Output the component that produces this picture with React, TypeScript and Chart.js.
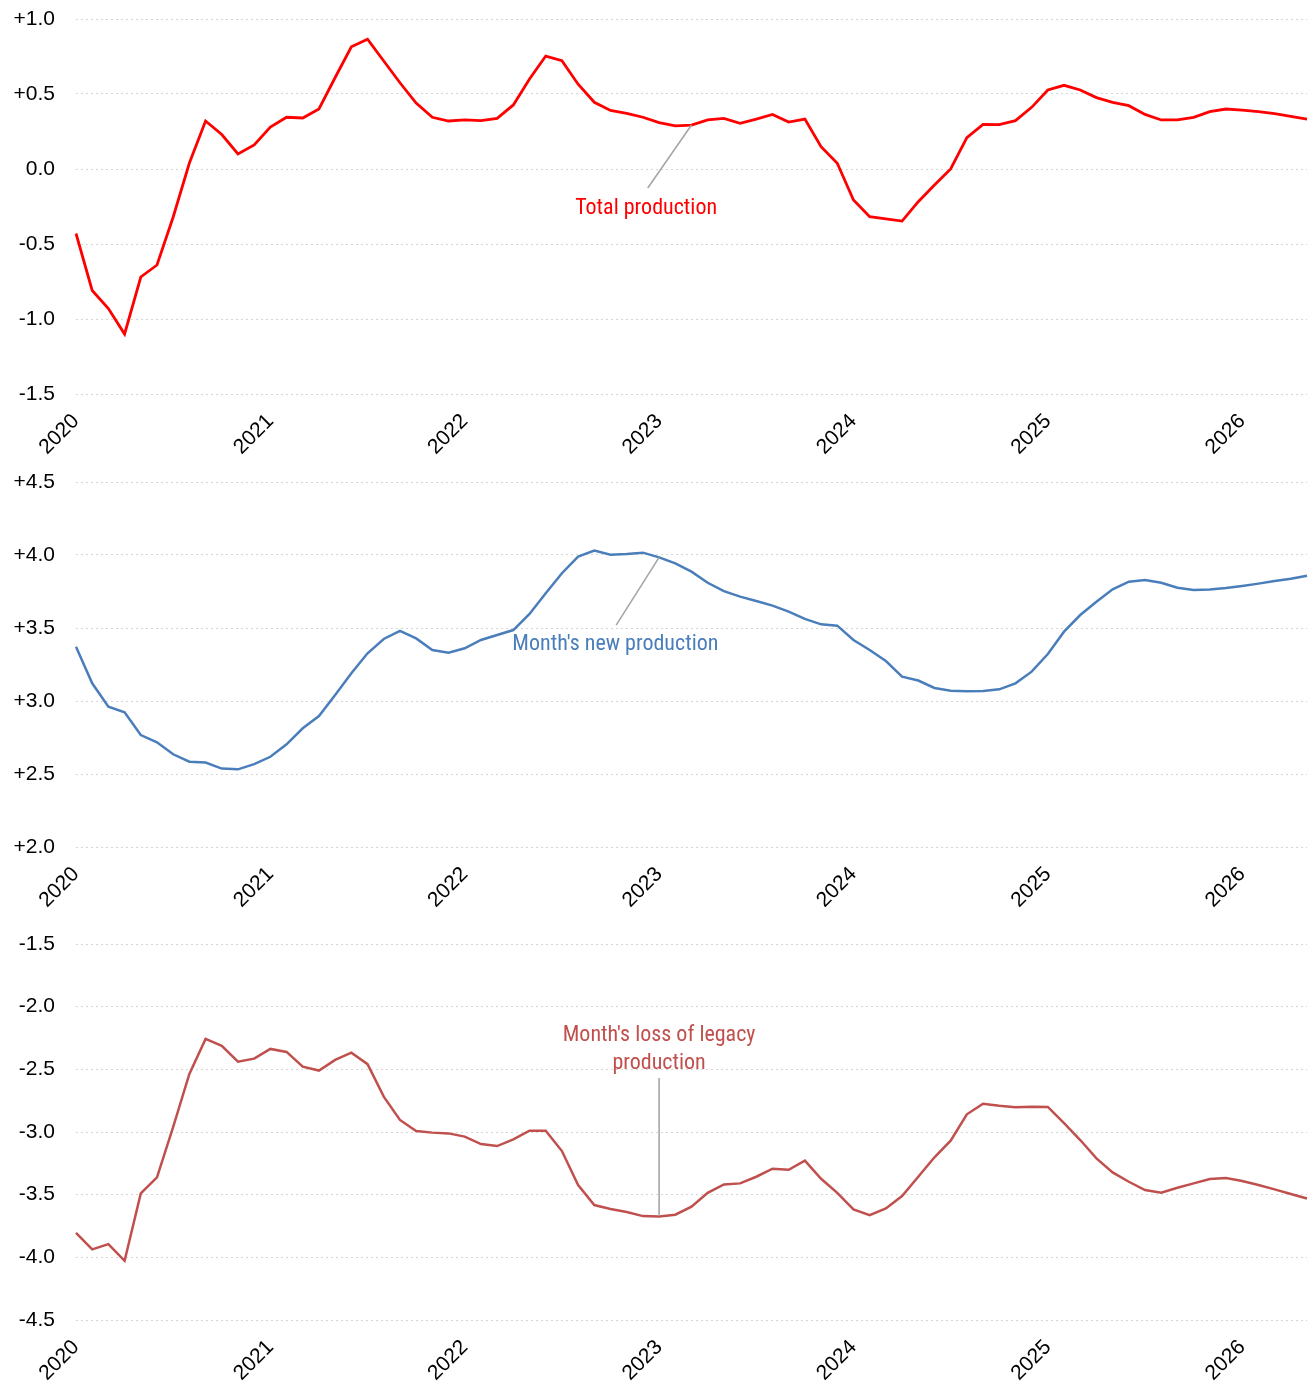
import React, { useEffect, useRef } from "react";
import { Chart, registerables } from "chart.js";

Chart.register(...registerables);

// Months Jan 2020 .. May 2026
const months: string[] = [];
for (let y = 2020; y <= 2026; y++) {
  for (let m = 1; m <= 12; m++) {
    if (y === 2026 && m > 5) break;
    months.push(`${y}-${String(m).padStart(2, "0")}`);
  }
}

const totalProduction = [
  -0.43, -0.81, -0.93, -1.1, -0.72, -0.64, -0.32, 0.04, 0.32, 0.23, 0.1, 0.16,
  0.28, 0.345, 0.34, 0.4, 0.61, 0.815, 0.865, 0.72, 0.575, 0.44, 0.345, 0.32,
  0.327, 0.322, 0.338, 0.427, 0.6, 0.753, 0.722, 0.565, 0.445, 0.39, 0.371, 0.345,
  0.309, 0.287, 0.293, 0.327, 0.338, 0.304, 0.333, 0.364, 0.313, 0.333, 0.149, 0.038,
  -0.207, -0.318, -0.333, -0.347, -0.218, -0.107, 0.0, 0.209, 0.298, 0.296, 0.322, 0.411,
  0.527, 0.558, 0.527, 0.476, 0.444, 0.422, 0.364, 0.327, 0.327, 0.344, 0.382, 0.4,
  0.393, 0.382, 0.369, 0.351, 0.333,
];

const newProduction = [
  3.372, 3.121, 2.961, 2.922, 2.767, 2.717, 2.635, 2.584, 2.578, 2.537, 2.532, 2.568,
  2.618, 2.703, 2.813, 2.897, 3.041, 3.19, 3.327, 3.425, 3.481, 3.429, 3.349, 3.331,
  3.361, 3.418, 3.452, 3.486, 3.596, 3.738, 3.875, 3.989, 4.03, 4.002, 4.007, 4.016,
  3.984, 3.943, 3.886, 3.81, 3.753, 3.715, 3.685, 3.653, 3.612, 3.562, 3.525, 3.516,
  3.418, 3.349, 3.274, 3.167, 3.14, 3.089, 3.071, 3.066, 3.068, 3.08, 3.121, 3.201,
  3.322, 3.475, 3.589, 3.68, 3.765, 3.817, 3.829, 3.81, 3.776, 3.76, 3.763, 3.774,
  3.788, 3.804, 3.822, 3.838, 3.858,
];

const legacyLoss = [
  -3.804, -3.937, -3.895, -4.028, -3.49, -3.362, -2.96, -2.537, -2.257, -2.313, -2.439, -2.415,
  -2.337, -2.361, -2.479, -2.51, -2.425, -2.367, -2.459, -2.718, -2.904, -2.992, -3.005, -3.011,
  -3.037, -3.096, -3.112, -3.059, -2.99, -2.99, -3.152, -3.423, -3.583, -3.615, -3.639, -3.671,
  -3.674, -3.66, -3.596, -3.485, -3.418, -3.41, -3.357, -3.293, -3.301, -3.229, -3.373, -3.485,
  -3.618, -3.663, -3.61, -3.511, -3.357, -3.202, -3.069, -2.859, -2.774, -2.79, -2.803, -2.798,
  -2.8, -2.93, -3.064, -3.21, -3.322, -3.397, -3.463, -3.485, -3.445, -3.41, -3.375, -3.367,
  -3.391, -3.423, -3.458, -3.495, -3.53,
];

const panelTitles = ["Total production", "Month's new production", "Month's loss of legacy production"];

type Annot = {
  lines: string[];
  color: string;
  from: [number, number];
  to: [number, number];
  text: [number, number];
  lineGap: number;
};

type Panel = {
  data: number[];
  color: string;
  width: number;
  min: number;
  max: number;
  top: number;
  height: number;
  padTop: number;
  xHeight: number;
  annot: Annot;
};

const panels: Panel[] = [
  {
    data: totalProduction,
    color: "#ff0000",
    width: 2.8,
    min: -1.5,
    max: 1.0,
    top: 0,
    height: 462,
    padTop: 19,
    xHeight: 68,
    annot: {
      lines: ["Total production"],
      color: "#ff0000",
      from: [38, 0.293],
      to: [35.3, -0.127],
      text: [35.2, -0.26],
      lineGap: 0,
    },
  },
  {
    data: newProduction,
    color: "#4a7ebb",
    width: 2.5,
    min: 2.0,
    max: 4.5,
    top: 462,
    height: 465,
    padTop: 20,
    xHeight: 80,
    annot: {
      lines: ["Month's new production"],
      color: "#4a7ebb",
      from: [36, 3.984],
      to: [33.35, 3.52],
      text: [33.3, 3.384],
      lineGap: 0,
    },
  },
  {
    data: legacyLoss,
    color: "#c0504d",
    width: 2.5,
    min: -4.5,
    max: -1.5,
    top: 927,
    height: 460,
    padTop: 17,
    xHeight: 67,
    annot: {
      lines: ["Month's loss of legacy", "production"],
      color: "#c0504d",
      from: [36, -3.671],
      to: [36, -2.569],
      text: [36, -2.232],
      lineGap: 28,
    },
  },
];

const tickFont = { family: "'Liberation Sans', Arial, sans-serif", size: 21 };

function fmt(v: number): string {
  const s = Math.abs(v).toFixed(1);
  if (Math.abs(v) < 1e-9) return "0.0";
  return v > 0 ? "+" + s : "-" + s;
}

function PanelChart({ p, title }: { p: Panel; title: string }) {
  const ref = useRef<HTMLCanvasElement | null>(null);
  useEffect(() => {
    if (!ref.current) return;
    const annotPlugin = {
      id: "annot",
      afterDatasetsDraw(chart: any) {
        const { ctx, scales } = chart;
        const xs = scales.x;
        const ys = scales.y;
        const a = p.annot;
        const xp = (v: number) => {
          const x0 = xs.getPixelForValue(0);
          const x1 = xs.getPixelForValue(1);
          return x0 + (x1 - x0) * v;
        };
        ctx.save();
        ctx.strokeStyle = "#a6a6a6";
        ctx.lineWidth = 1.6;
        ctx.beginPath();
        ctx.moveTo(xp(a.from[0]), ys.getPixelForValue(a.from[1]));
        ctx.lineTo(xp(a.to[0]), ys.getPixelForValue(a.to[1]));
        ctx.stroke();
        ctx.fillStyle = a.color;
        ctx.font = "22px 'Liberation Sans Narrow', 'Arial Narrow', 'Roboto Condensed', sans-serif";
        ctx.textAlign = "center";
        ctx.textBaseline = "middle";
        const tx = xp(a.text[0]);
        const ty = ys.getPixelForValue(a.text[1]);
        a.lines.forEach((ln, i) => {
          ctx.fillText(ln, tx, ty + i * a.lineGap);
        });
        ctx.restore();
      },
    };
    const chart = new Chart(ref.current, {
      type: "line",
      data: {
        labels: months,
        datasets: [
          {
            label: title,
            data: p.data,
            borderColor: p.color,
            borderWidth: p.width,
            pointRadius: 0,
            tension: 0,
            fill: false,
          },
        ],
      },
      options: {
        animation: false,
        responsive: false,
        maintainAspectRatio: false,
        layout: { padding: { top: p.padTop, right: 9, left: 0, bottom: 0 } },
        plugins: { legend: { display: false }, tooltip: { enabled: false } },
        scales: {
          x: {
            type: "category",
            offset: false,
            border: { display: false },
            grid: { display: false, drawTicks: false },
            ticks: {
              autoSkip: false,
              maxRotation: 45,
              minRotation: 45,
              padding: 15,
              color: "#000",
              font: tickFont,
              callback: (_v: any, i: number) =>
                months[i].endsWith("-01") ? months[i].slice(0, 4) : null,
            },
            afterFit: (s: any) => {
              s.height = p.xHeight;
            },
          },
          y: {
            min: p.min,
            max: p.max,
            border: { display: false, dash: [2, 3] },
            grid: {
              color: "#d6d6d6",
              lineWidth: 1,
              drawTicks: false,
            },
            ticks: {
              stepSize: 0.5,
              padding: 21,
              color: "#000",
              font: tickFont,
              callback: (v: any) => fmt(Number(v)),
            },
            afterFit: (s: any) => {
              s.width = 76;
              s.paddingTop = 0;
              s.paddingBottom = 0;
            },
          },
        },
      } as any,
      plugins: [annotPlugin],
    });
    return () => chart.destroy();
  }, []);
  return (
    <div style={{ position: "absolute", left: 0, top: p.top, width: 1316, height: p.height }}>
      <canvas ref={ref} width={1316} height={p.height} style={{ width: 1316, height: p.height }} />
    </div>
  );
}

export default function App() {
  return (
    <div style={{ position: "absolute", left: 0, top: 0, width: 1316, height: 1387, background: "#fff" }}>
      {panels.map((p, i) => (
        <PanelChart key={i} p={p} title={panelTitles[i]} />
      ))}
    </div>
  );
}
